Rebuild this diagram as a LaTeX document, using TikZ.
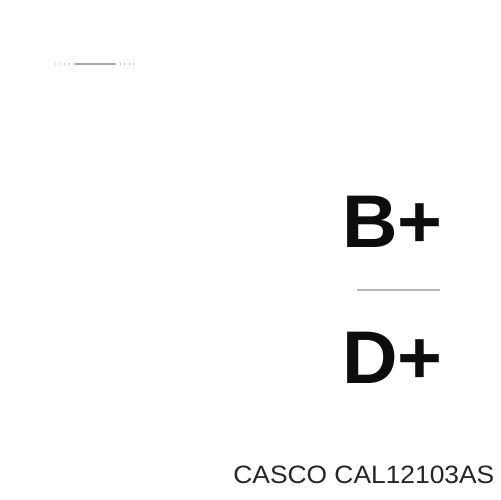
\documentclass[tikz,border=0pt]{standalone}
\usepackage{fontspec}
\setmainfont{Liberation Sans}
\begin{document}
\begin{tikzpicture}[x=0.02cm,y=-0.02cm,
  bigtxt/.style={anchor=base west,inner sep=0pt,xscale=1.03,font=\fontsize{42.5pt}{45pt}\selectfont\bfseries,text=black!95},
  smalltxt/.style={anchor=base west,inner sep=0pt,xscale=1.05,font=\fontsize{14.3pt}{16pt}\selectfont,text=black!85},
  rule/.style={line width=0.6pt}]
\useasboundingbox[fill=white] (0,0) rectangle (500,500);
\coordinate (t1) at (55,64);
\coordinate (t2) at (75,64);
\coordinate (t3) at (115,64);
\coordinate (t4) at (135,64);
\draw[rule,gray!40,dotted] (t1) -- (t2);
\draw[rule,gray!70] (t2) -- (t3);
\draw[rule,gray!40,dotted] (t3) -- (t4);
\node[bigtxt] (bplus) at (342,247) {B+};
\coordinate (m1) at (357,290);
\coordinate (m2) at (440,290);
\draw[rule,gray!55] (m1) -- (m2);
\node[bigtxt] (dplus) at (342,383) {D+};
\node[smalltxt] (label) at (233,483) {CASCO CAL12103AS};
\end{tikzpicture}
\end{document}
